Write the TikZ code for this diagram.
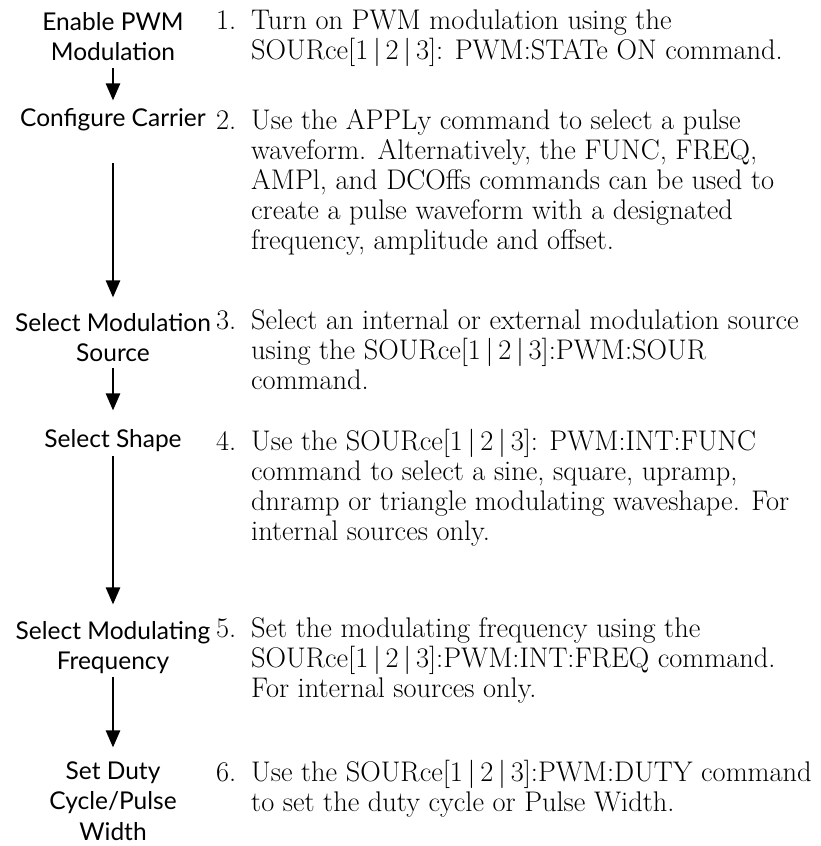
\documentclass[tikz,border=0pt]{standalone}
\usepackage{fontspec}
\newfontfamily\labelfont{Lato}
\usetikzlibrary{arrows.meta}

\newcommand{\steplines}[1]{\begin{tabular}[t]{@{}c@{}}#1\end{tabular}}
\newcommand{\itemlines}[2]{\begin{tabular}[t]{@{}p{35pt}@{}l@{}}#1&#2\end{tabular}}
\newcommand{\chsep}{\,|\,}

\begin{document}
\begin{tikzpicture}[x=1pt, y=-1pt,
    steplabel/.style={inner sep=0pt, anchor=base, font=\labelfont\fontsize{24.5}{30.5}\selectfont},
    stepitem/.style={inner sep=0pt, anchor=base west, font=\fontsize{28.4}{30}\selectfont},
    flow/.style={-{Triangle[length=17pt, width=14pt]}, line width=2.5pt}]
    \useasboundingbox (0,0) rectangle (821,846);

    % left column: the steps
    \node[steplabel] (s1) at (113,30) {\steplines{Enable PWM\\Modulation}};
    \node[steplabel] (s2) at (113,126) {\steplines{Configure Carrier}};
    \node[steplabel] (s3) at (113,331) {\steplines{Select Modulation\\Source}};
    \node[steplabel] (s4) at (113,447) {\steplines{Select Shape}};
    \node[steplabel] (s5) at (113,639) {\steplines{Select Modulating\\Frequency}};
    \node[steplabel] (s6) at (113,779) {\steplines{Set Duty\\Cycle/Pulse\\Width}};

    % right column: what to do
    \node[stepitem] (i1) at (216,29) {\itemlines{1.}{Turn on PWM modulation using the\\
        &SOURce[1\chsep2\chsep3]: PWM:STATe ON command.}};
    \node[stepitem] (i2) at (216,129) {\itemlines{2.}{Use the APPLy command to select a pulse\\
        &waveform. Alternatively, the FUNC, FREQ,\\
        &AMPl, and DCOffs commands can be used to\\
        &create a pulse waveform with a designated\\
        &frequency, amplitude and offset.}};
    \node[stepitem] (i3) at (216,329) {\itemlines{3.}{Select an internal or external modulation source\\
        &using the SOURce[1\chsep2\chsep3]:PWM:SOUR\\
        &command.}};
    \node[stepitem] (i4) at (216,450) {\itemlines{4.}{Use the SOURce[1\chsep2\chsep3]: PWM:INT:FUNC\\
        &command to select a sine, square, upramp,\\
        &dnramp or triangle modulating waveshape. For\\
        &internal sources only.}};
    \node[stepitem] (i5) at (216,637) {\itemlines{5.}{Set the modulating frequency using the\\
        &SOURce[1\chsep2\chsep3]:PWM:INT:FREQ command.\\
        &For internal sources only.}};
    \node[stepitem] (i6) at (216,781) {\itemlines{6.}{Use the SOURce[1\chsep2\chsep3]:PWM:DUTY command\\
        &to set the duty cycle or Pulse Width.}};

    \draw[flow, shorten <=-2pt, shorten >=4pt] (s1) -- (s2);
    \draw[flow, shorten <=28pt, shorten >=12pt] (s2) -- (s3);
    \draw[flow, shorten <=-3pt, shorten >=15pt] (s3) -- (s4);
    \draw[flow, shorten <=0pt, shorten >=13pt] (s4) -- (s5);
    \draw[flow, shorten <=-2pt, shorten >=10pt] (s5) -- (s6);
\end{tikzpicture}
\end{document}
